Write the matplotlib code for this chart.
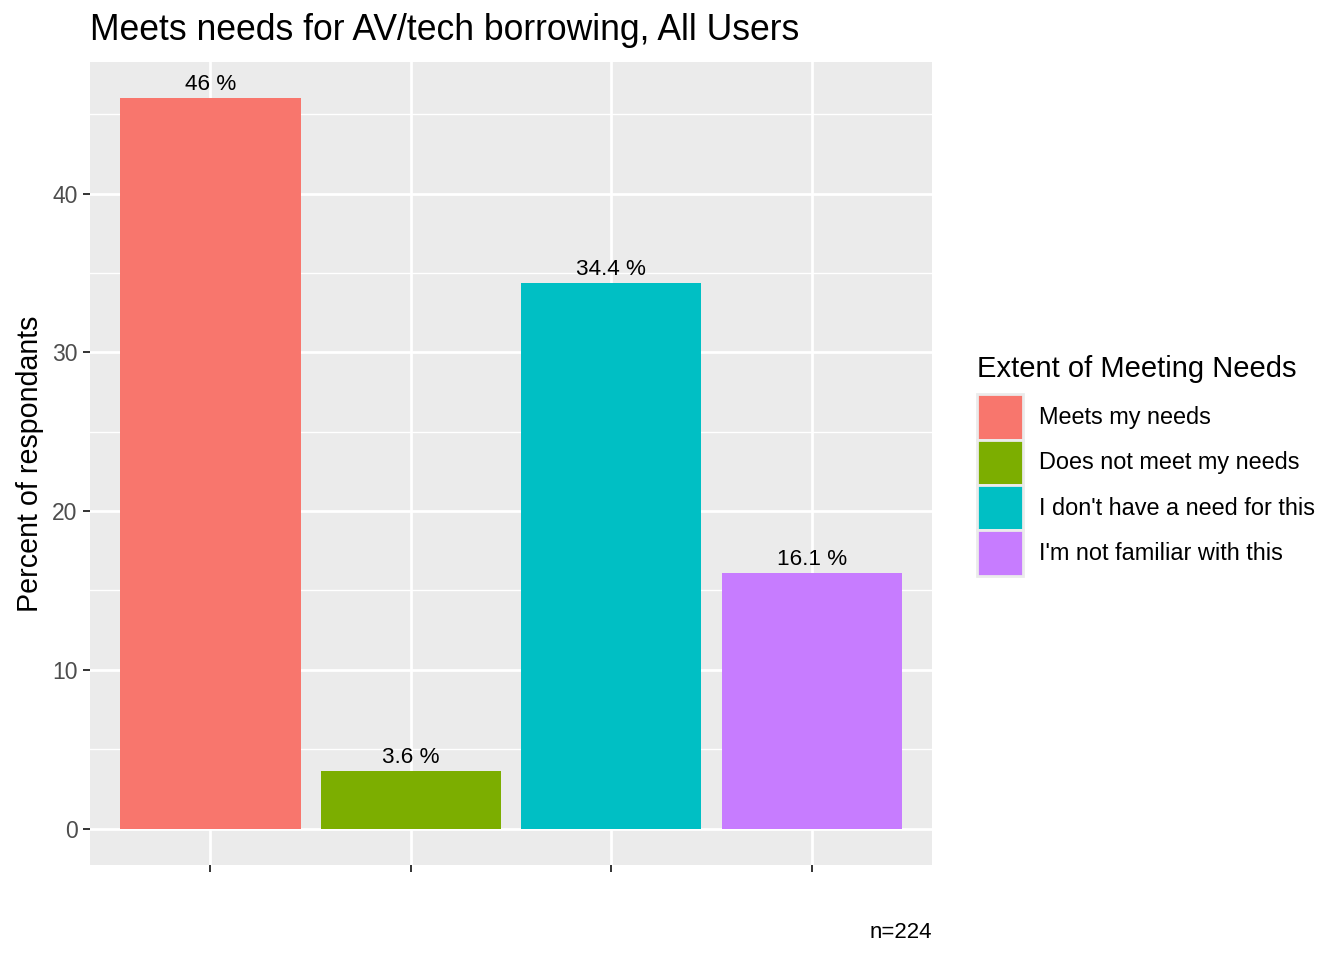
import matplotlib.pyplot as plt
from matplotlib.patches import Patch
from matplotlib.ticker import MultipleLocator

plt.rcParams['font.family'] = ['Liberation Sans', 'DejaVu Sans']

# data
categories = ['Meets my needs', 'Does not meet my needs',
              "I don't have a need for this", "I'm not familiar with this"]
percents = [46.0, 3.6, 34.4, 16.1]
labels = ['46 %', '3.6 %', '34.4 %', '16.1 %']
colors = ['#F8766D', '#7CAE00', '#00BFC4', '#C77CFF']
n_total = 224

W, H = 1344, 960
fig = plt.figure(figsize=(W / 100, H / 100), dpi=100)
ax = fig.add_axes([90 / W, 1 - 865 / H, (932 - 90) / W, (865 - 62) / H])

ax.set_facecolor('#EBEBEB')
for s in ax.spines.values():
    s.set_visible(False)

x = list(range(1, len(categories) + 1))
ax.bar(x, percents, width=0.9, color=colors, zorder=3)

for xi, v, lab in zip(x, percents, labels):
    ax.annotate(lab, (xi, v), xytext=(0, 3), textcoords='offset pixels',
                ha='center', va='bottom', fontsize=16.2, color='black', zorder=4)

ax.set_xlim(0.4, 4.6)
ax.set_ylim(-2.3, 48.3)
ax.set_xticks(x)
ax.set_xticklabels([''] * len(x))
ax.yaxis.set_major_locator(MultipleLocator(10))
ax.yaxis.set_minor_locator(MultipleLocator(5))
ax.set_yticks([0, 10, 20, 30, 40])

ax.grid(which='major', color='white', linewidth=2.0, zorder=0)
ax.grid(which='minor', axis='y', color='white', linewidth=1.0, zorder=0)
ax.set_axisbelow(True)
ax.tick_params(axis='both', which='major', length=5, width=1.4, color='#333333',
               labelsize=16.5, labelcolor='#4D4D4D', pad=4)
ax.tick_params(axis='y', which='minor', length=0)

ax.set_ylabel('Percent of respondants', fontsize=20.6, labelpad=6)

fig.text(90 / W, 1 - 31 / H, 'Meets needs for AV/tech borrowing, All Users',
         fontsize=25.6, ha='left', va='center')
fig.text(932 / W, 1 - 932 / H, f'n={n_total}', fontsize=16, ha='right', va='center')

handles = [Patch(facecolor=c, edgecolor='#EBEBEB', linewidth=2) for c in colors]
leg = fig.legend(handles, categories, title='Extent of Meeting Needs',
                 loc='upper left', bbox_to_anchor=(977 / W, 1 - 355 / H),
                 frameon=False, fontsize=16.9, title_fontsize=21,
                 handlelength=1.95, handleheight=2.6, labelspacing=0.0,
                 handletextpad=0.7, borderpad=0, borderaxespad=0,
                 alignment='left')
leg._legend_box.sep = 8  # gap between legend title and keys

fig.savefig('out.png', dpi=100)
